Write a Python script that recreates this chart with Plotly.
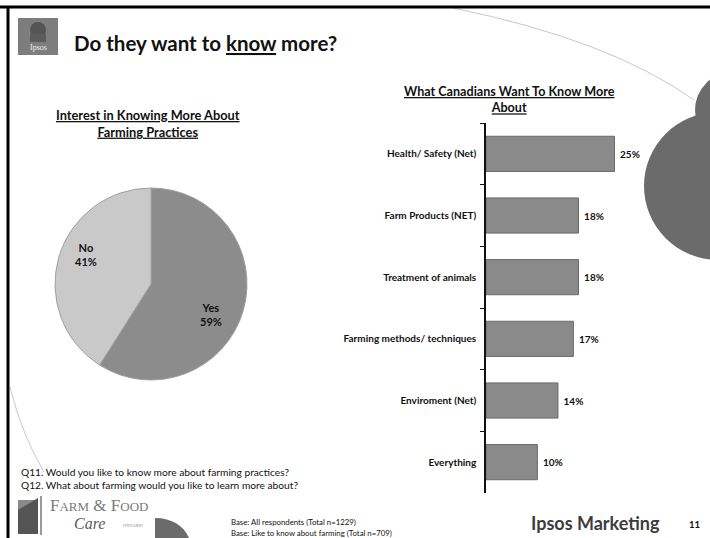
import math
import plotly.graph_objects as go

# ---- data ----
pie_labels = ["Yes", "No"]
pie_values = [59, 41]
pie_colors = ["#8c8c8c", "#c9c9c9"]

topics = [
    "Health/ Safety (Net)",
    "Farm Products (NET)",
    "Treatment of animals",
    "Farming methods/ techniques",
    "Enviroment (Net)",
    "Everything",
]
topic_pct = [25, 18, 18, 17, 14, 10]

W, H = 710, 538
FONT = "Lato, 'Open Sans', sans-serif"
SERIF = "'Liberation Serif', 'DejaVu Serif', serif"

# pie geometry (pixels)
PIE_CX, PIE_CY, PIE_R = 151, 284, 96


def px(x):
    return x / W


def py(y):
    return 1 - y / H


fig = go.Figure()

# ---- pie: interest in knowing more ----
fig.add_trace(go.Pie(
    labels=pie_labels,
    values=pie_values,
    sort=False,
    direction="clockwise",
    rotation=0,
    marker=dict(colors=pie_colors, line=dict(color="#a0a0a0", width=1)),
    textinfo="none",
    domain=dict(x=[px(PIE_CX - PIE_R), px(PIE_CX + PIE_R)],
                y=[py(PIE_CY + PIE_R), py(PIE_CY - PIE_R)]),
    showlegend=False,
    hoverinfo="label+percent",
))

# ---- bars: what people want to know more about ----
fig.add_trace(go.Bar(
    x=topic_pct,
    y=topics,
    orientation="h",
    marker=dict(color="#8a8a8a", line=dict(color="#6a6a6a", width=1)),
    texttemplate="\u00a0<b>%{x}%</b>",
    textposition="outside",
    textfont=dict(family=FONT, size=10, color="#111111"),
    cliponaxis=False,
    width=0.57,
    xaxis="x",
    yaxis="y",
    showlegend=False,
))

fig.update_layout(
    width=W,
    height=H,
    margin=dict(l=0, r=0, t=0, b=0),
    paper_bgcolor="white",
    plot_bgcolor="rgba(0,0,0,0)",
    font=dict(family=FONT, color="#111111"),
    xaxis=dict(
        domain=[px(486), px(486 + 205.6)],
        range=[0, 40],
        visible=False,
    ),
    yaxis=dict(
        domain=[py(493), py(123)],
        categoryorder="array",
        categoryarray=topics,
        autorange="reversed",
        showline=True,
        linecolor="#111111",
        linewidth=1.5,
        ticks="outside",
        tickson="boundaries",
        ticklen=4,
        tickcolor="#111111",
        showgrid=False,
        zeroline=False,
        ticklabelstandoff=6,
        tickfont=dict(family=FONT, size=10, color="#111111"),
        tickprefix="<b>",
        ticksuffix="</b>",
    ),
)

annotations = []


def text(x, y, s, size, anchor="left", bold=False, color="#111111", family=FONT, yanchor="middle"):
    annotations.append(dict(
        x=px(x), y=py(y), xref="paper", yref="paper",
        text=f"<b>{s}</b>" if bold else s,
        showarrow=False, xanchor=anchor, yanchor=yanchor, align="center",
        font=dict(family=family, size=size, color=color),
    ))


# pie slice labels, placed near each slice's mid-angle
total = sum(pie_values)
start = 0.0
label_radius = [0.70, 0.74]
label_turn = [11, 8]  # extra clockwise rotation, degrees
for lab, val, rr, turn in zip(pie_labels, pie_values, label_radius, label_turn):
    mid = (start + val / 2) / total * 360 + turn
    start += val
    lx = PIE_CX + rr * PIE_R * math.sin(math.radians(mid))
    ly = PIE_CY - rr * PIE_R * math.cos(math.radians(mid))
    text(lx, ly, f"{lab}<br>{val}%", 11, anchor="center", bold=True)

# slide title
text(72, 43, "Do they want to <u>know</u> more?", 20.5, bold=True)
# chart titles
text(148, 124, "<u>Interest in Knowing More About</u><br><u>Farming Practices</u>", 12.8, anchor="center", bold=True)
text(509, 100, "<u>What Canadians Want To Know More</u><br><u>About</u>", 12.6, anchor="center", bold=True)
# question notes
text(19, 472, "Q11. Would you like to know more about farming practices?", 10.2)
text(19, 485, "Q12. What about farming would you like to learn more about?", 10.2)
# base notes
text(229, 522, "Base: All respondents (Total n=1229)", 7.8)
text(229, 533, "Base: Like to know about farming (Total n=709)", 7.8)
# footer
text(662, 523, "Ipsos Marketing", 18, anchor="right", bold=True, color="#3c3c3c")
text(687, 524, "11", 9.5, bold=True)
# Farm & Food Care wordmark
text(48, 505, "F<span style='font-size:13px'>ARM</span> &amp; F<span style='font-size:13px'>OOD</span>",
     17, color="#7a7a7a", family=SERIF)
text(72, 523, "<i>Care</i>", 16, color="#5a5a5a", family=SERIF)
text(121, 525, "ONTARIO", 4.5, color="#888888", family=SERIF)
# Ipsos badge label
text(38, 48, "Ipsos", 8, anchor="center", color="#eeeeee", family=SERIF)

fig.update_layout(annotations=annotations)

shapes = []


def rect(x0, y0, x1, y1, fill):
    shapes.append(dict(type="rect", xref="paper", yref="paper",
                       x0=px(x0), x1=px(x1), y0=py(y1), y1=py(y0),
                       fillcolor=fill, line=dict(width=0), layer="below"))


def circle(cx, cy, r, fill):
    shapes.append(dict(type="circle", xref="paper", yref="paper",
                       x0=px(cx - r), x1=px(cx + r), y0=py(cy + r), y1=py(cy - r),
                       fillcolor=fill, line=dict(width=0), layer="below"))


def poly(cmds, fill):
    shapes.append(dict(type="path", xref="paper", yref="paper", path=cmds,
                       fillcolor=fill, line=dict(width=0), layer="below"))


def curve(p0, c, p1, color="#c8c8c8", width=1):
    d = (f"M {px(p0[0])},{py(p0[1])} Q {px(c[0])},{py(c[1])} "
         f"{px(p1[0])},{py(p1[1])}")
    shapes.append(dict(type="path", xref="paper", yref="paper", path=d,
                       line=dict(color=color, width=width), layer="below"))


# decorative arcs
curve((453, 8), (610, 40), (694, 100))
curve((10, 387), (22, 435), (44, 472))
# decorative discs on the right edge
circle(718, 186, 74, "#6b6b6b")
circle(733, 110, 38, "#6b6b6b")
# quarter disc at the bottom
poly(f"M {px(155)},{py(538)} L {px(155)},{py(518)} "
     f"C {px(172)},{py(518)} {px(184)},{py(526)} {px(189)},{py(538)} Z", "#6b6b6b")
# slide frame
shapes.append(dict(type="line", xref="paper", yref="paper",
                   x0=0, x1=1, y0=py(7), y1=py(7), line=dict(color="#000000", width=3)))
shapes.append(dict(type="line", xref="paper", yref="paper",
                   x0=px(8), x1=px(8), y0=py(7), y1=0, line=dict(color="#000000", width=3)))
# Ipsos badge
rect(18, 18, 58, 55, "#7d7d7d")
circle(38, 30, 8, "#555555")
rect(30, 34, 46, 42, "#5c5c5c")
# Farm & Food Care emblem
rect(18, 500, 38, 534, "#8a8a8a")
poly(f"M {px(18)},{py(534)} L {px(18)},{py(510)} L {px(38)},{py(498)} L {px(38)},{py(534)} Z",
     "#555555")
shapes.append(dict(type="line", xref="paper", yref="paper",
                   x0=px(41), x1=px(41), y0=py(535), y1=py(496),
                   line=dict(color="#777777", width=1.5)))

fig.update_layout(shapes=shapes)

fig.write_html("out.html")
